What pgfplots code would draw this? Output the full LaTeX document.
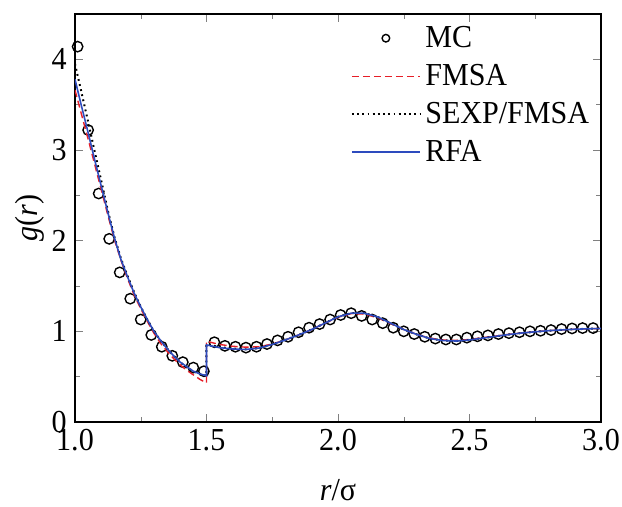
\documentclass[border=0pt]{standalone}
\usepackage{fontspec}
\setmainfont[FakeStretch=0.94]{Liberation Serif}
\usepackage{pgfplots}
\pgfplotsset{compat=1.18}
\definecolor{myred}{RGB}{230,30,40}
\definecolor{myblue}{RGB}{45,75,190}
\pgfplotsset{longlegend/.style={legend image code/.code={\draw[mark repeat=2,mark phase=2,##1] plot coordinates {(0pt,0pt) (17pt,0pt) (34pt,0pt)};}}}
\begin{document}
\begin{tikzpicture}
\begin{axis}[
  name=ax,
  scale only axis,
  width=263pt, height=204pt,
  xmin=1, xmax=3, ymin=0, ymax=4.5,
  xtick={1,1.5,2,2.5,3},
  ytick={0,1,2,3,4},
  minor x tick num=1, minor y tick num=1,
  tick align=inside,
  major tick length=4pt, minor tick length=2.5pt,
  axis line style={line width=0.75pt},
  /pgf/number format/assume math mode=true,
  xticklabel style={/pgf/number format/fixed, /pgf/number format/fixed zerofill, /pgf/number format/precision=1, inner ysep=1pt, yshift=-2.5pt},
  yticklabel style={inner ysep=0pt, inner xsep=3pt, xshift=-1pt},
  ticklabel style={font=\fontsize{16}{19}\selectfont},
  label style={font=\fontsize{16}{19}\selectfont},
  xlabel={\textit{r}/σ},
  ylabel={\textit{g}(\textit{r})},
  xlabel style={at={(axis description cs:0.5,-0.1667)}, anchor=center},
  ylabel style={at={(axis description cs:-0.0856,0.5)}, anchor=center},
  clip mode=individual,
  legend style={draw=none, fill=none, at={(axis description cs:0.998,0.998)}, anchor=north east,
    font=\fontsize{16}{19}\selectfont,
    nodes={inner xsep=2.2pt, inner ysep=2pt, text height=12pt, text depth=3pt}},
  legend cell align=left,
]
\addplot[only marks, mark=o, mark size=2.6pt, mark options={line width=0.7pt, black}, longlegend, legend image post style={mark size=1.9pt}] table {
1.01 4.14
1.05 3.22
1.09 2.52
1.13 2.02
1.17 1.65
1.21 1.36
1.25 1.13
1.29 0.96
1.33 0.83
1.37 0.73
1.41 0.66
1.45 0.60
1.49 0.56
1.53 0.88
1.57 0.84
1.61 0.83
1.65 0.82
1.69 0.83
1.73 0.86
1.77 0.90
1.81 0.94
1.85 0.99
1.89 1.04
1.93 1.08
1.97 1.13
2.01 1.18
2.05 1.20
2.09 1.17
2.13 1.13
2.17 1.09
2.21 1.04
2.25 1.00
2.29 0.97
2.33 0.94
2.37 0.92
2.41 0.91
2.45 0.91
2.49 0.93
2.53 0.945
2.57 0.955
2.61 0.97
2.65 0.98
2.69 0.99
2.73 1.00
2.77 1.006
2.81 1.014
2.85 1.025
2.89 1.032
2.93 1.036
2.97 1.036
3.005 1.036
};
\addlegendentry{MC}
\addplot[color=myred, line width=0.7pt, dash pattern=on 3.5pt off 2pt, longlegend] table {
1.000 3.66
1.025 3.39
1.050 3.12
1.075 2.84
1.100 2.56
1.125 2.28
1.150 2.01
1.175 1.78
1.200 1.58
1.225 1.40
1.250 1.25
1.275 1.11
1.300 0.98
1.325 0.87
1.350 0.78
1.375 0.70
1.400 0.63
1.425 0.57
1.450 0.52
1.475 0.47
1.500 0.43
1.500 0.89
1.550 0.855
1.600 0.835
1.650 0.825
1.700 0.83
1.750 0.86
1.800 0.905
1.850 0.96
1.900 1.02
1.950 1.09
2.000 1.155
2.050 1.195
2.100 1.19
2.150 1.15
2.200 1.085
2.250 1.02
2.300 0.965
2.350 0.925
2.400 0.905
2.450 0.90
2.500 0.91
2.550 0.93
2.600 0.948
2.650 0.967
2.700 0.983
2.750 0.996
2.800 1.007
2.850 1.016
2.900 1.023
2.950 1.028
3.000 1.031
};
\addlegendentry{FMSA}
\addplot[color=black, line width=1pt, dash pattern=on 0.9pt off 1.7pt, longlegend] table {
1.000 3.95
1.025 3.63
1.050 3.31
1.075 2.98
1.100 2.66
1.125 2.33
1.150 2.04
1.175 1.80
1.200 1.61
1.225 1.43
1.250 1.27
1.275 1.13
1.300 1.00
1.325 0.90
1.350 0.81
1.375 0.73
1.400 0.66
1.425 0.60
1.450 0.56
1.475 0.53
1.500 0.51
1.500 0.86
1.550 0.825
1.600 0.81
1.650 0.80
1.700 0.815
1.750 0.855
1.800 0.905
1.850 0.96
1.900 1.02
1.950 1.09
2.000 1.16
2.050 1.20
2.100 1.20
2.150 1.16
2.200 1.09
2.250 1.02
2.300 0.965
2.350 0.92
2.400 0.898
2.450 0.893
2.500 0.905
2.550 0.925
2.600 0.945
2.650 0.965
2.700 0.982
2.750 0.995
2.800 1.007
2.850 1.016
2.900 1.023
2.950 1.028
3.000 1.031
};
\addlegendentry{SEXP/FMSA}
\addplot[color=myblue, line width=0.8pt, longlegend] table {
1.000 3.78
1.025 3.48
1.050 3.19
1.075 2.89
1.100 2.60
1.125 2.31
1.150 2.03
1.175 1.79
1.200 1.60
1.225 1.42
1.250 1.27
1.275 1.13
1.300 1.00
1.325 0.90
1.350 0.81
1.375 0.73
1.400 0.66
1.425 0.61
1.450 0.56
1.475 0.53
1.500 0.51
1.500 0.85
1.550 0.82
1.600 0.805
1.650 0.80
1.700 0.815
1.750 0.855
1.800 0.905
1.850 0.96
1.900 1.02
1.950 1.09
2.000 1.16
2.050 1.20
2.100 1.20
2.150 1.16
2.200 1.09
2.250 1.02
2.300 0.965
2.350 0.92
2.400 0.898
2.450 0.893
2.500 0.905
2.550 0.925
2.600 0.945
2.650 0.965
2.700 0.982
2.750 0.995
2.800 1.007
2.850 1.016
2.900 1.023
2.950 1.028
3.000 1.031
};
\addlegendentry{RFA}
\end{axis}
\pgfresetboundingbox
\path (ax.south west) ++(-37.5pt,-42.5pt) rectangle ([xshift=10.5pt,yshift=7pt]ax.north east);
\end{tikzpicture}
\end{document}
